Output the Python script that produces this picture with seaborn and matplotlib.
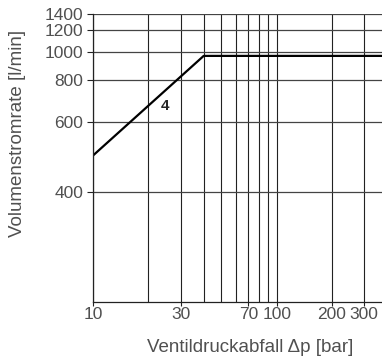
import numpy as np
import pandas as pd
import seaborn as sns
import matplotlib.pyplot as plt

# curve 4: flow rate vs valve pressure drop
dp_bar = [10, 40, 375]
flow_lpm = [490, 965, 965]

x_grid = [10, 20, 30, 40, 50, 60, 70, 80, 90, 100, 200, 300]
x_labels = [10, 30, 70, 100, 200, 300]
y_ticks = [400, 600, 800, 1000, 1200, 1400]

sns.set_style("white")
plt.rcParams['font.family'] = ['Liberation Sans', 'DejaVu Sans']

df = pd.DataFrame({"dp": dp_bar, "flow": flow_lpm})

fig = plt.figure(figsize=(3.82, 3.6), dpi=100)
ax = fig.add_axes([0.244, 0.162, 0.756, 0.799])

sns.lineplot(data=df, x="dp", y="flow", color="black", linewidth=1.6, ax=ax)

ax.set_xscale("log")
# y axis in the original is compressed towards the top (roughly 1/sqrt)
ax.set_yscale("function",
              functions=(lambda v: -np.power(np.clip(v, 1e-9, None), -0.5),
                         lambda u: np.power(np.clip(-u, 1e-9, None), -2.0)))
ax.set_xlim(10, 375)
ax.set_ylim(242, 1400)

# grid
for xv in x_grid:
    ax.axvline(xv, color="#222222", linewidth=0.8, zorder=0)
for yv in y_ticks:
    ax.axhline(yv, color="#444444", linewidth=0.9, zorder=0)

ax.set_xticks(x_labels)
ax.set_xticklabels([str(v) for v in x_labels])
ax.xaxis.set_minor_locator(plt.NullLocator())
ax.set_yticks(y_ticks)
ax.set_yticklabels([str(v) for v in y_ticks])
ax.yaxis.set_minor_locator(plt.NullLocator())

ax.tick_params(axis="both", direction="out", width=0.8,
               color="#222222", labelsize=12.5, labelcolor="#505050")
ax.tick_params(axis="x", bottom=True, length=3, pad=1)
ax.tick_params(axis="y", left=True, length=4, pad=3)

for s in ["top", "right"]:
    ax.spines[s].set_visible(False)
for s in ["left", "bottom"]:
    ax.spines[s].set_color("#222222")
    ax.spines[s].set_linewidth(0.9)

ax.text(24.6, 665, "4", fontsize=11, fontweight="bold", ha="center", va="center")

ax.set_xlabel("Ventildruckabfall \u0394p [bar]", fontsize=13.5, color="#505050")
ax.set_ylabel("Volumenstromrate [l/min]", fontsize=13.5, color="#505050")
ax.xaxis.set_label_coords(0.543, -0.13)
ax.yaxis.set_label_coords(-0.233, 0.586)

fig.savefig("out.png", dpi=100)
